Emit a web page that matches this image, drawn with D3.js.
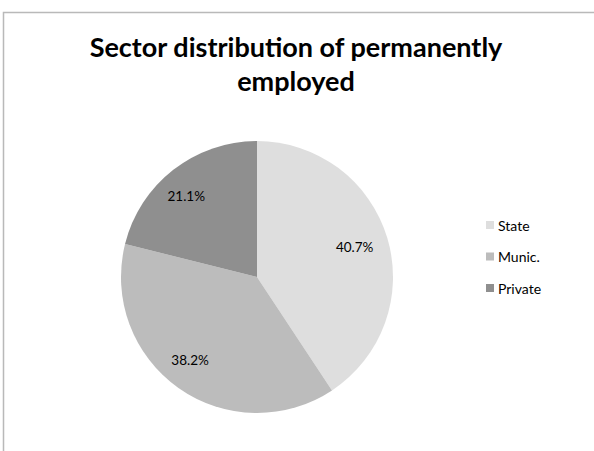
<!DOCTYPE html>
<html>
<head>
<meta charset="utf-8">
<script src="https://cdn.jsdelivr.net/npm/d3@7"></script>
<style>
  html, body { margin: 0; padding: 0; background: #fff; }
  svg { display: block; }
</style>
</head>
<body>
<svg id="chart" width="594" height="451"></svg>
<script>
// Share of permanently employed by sector
const sectors = ["State", "Munic.", "Private"];
const shares = [40.7, 38.2, 21.1];
const sectorColors = ["#dedede", "#bcbcbc", "#8f8f8f"];
const titleLines = ["Sector distribution of permanently", "employed"];

const svg = d3.select("#chart");
const fontFamily = "Lato, 'Open Sans', 'Liberation Sans', sans-serif";

// Chart frame (top and left edges visible)
svg.append("path")
  .attr("d", "M3.5,451 V12.5 H594")
  .attr("fill", "none")
  .attr("stroke", "#b9b9b9")
  .attr("stroke-width", 1.5);

// Title
const title = svg.append("text")
  .attr("x", 296)
  .attr("y", 57)
  .attr("text-anchor", "middle")
  .attr("font-family", fontFamily)
  .attr("font-weight", "bold")
  .attr("font-size", 27)
  .attr("fill", "#000");
title.selectAll("tspan")
  .data(titleLines)
  .join("tspan")
  .attr("x", 296)
  .attr("dy", (d, i) => i === 0 ? 0 : 34)
  .text(d => d);

// Pie
const cx = 257, cy = 277, radius = 136;
const color = d3.scaleOrdinal().domain(sectors).range(sectorColors);
const pie = d3.pie().sort(null).value(d => d.value);
const data = sectors.map((s, i) => ({ name: s, value: shares[i] }));
const arcs = pie(data);

const arc = d3.arc().innerRadius(0).outerRadius(radius);
const labelArc = d3.arc().innerRadius(radius * 0.75).outerRadius(radius * 0.75);

const g = svg.append("g").attr("transform", `translate(${cx},${cy})`);
g.selectAll("path")
  .data(arcs)
  .join("path")
  .attr("d", arc)
  .attr("fill", d => color(d.data.name));

g.selectAll("text")
  .data(arcs)
  .join("text")
  .attr("transform", d => {
    const [x, y] = labelArc.centroid(d);
    const mid = (d.startAngle + d.endAngle) / 2;
    const nudge = mid > Math.PI ? -8 : 0;
    return `translate(${x + nudge},${y})`;
  })
  .attr("dy", "0.35em")
  .attr("text-anchor", "middle")
  .attr("font-family", fontFamily)
  .attr("font-size", 13.5)
  .attr("fill", "#000")
  .text(d => d.data.value.toFixed(1) + "%");

// Legend
const legend = svg.append("g").attr("transform", "translate(486,221)");
const item = legend.selectAll("g")
  .data(sectors)
  .join("g")
  .attr("transform", (d, i) => `translate(0,${i * 31.5})`);
item.append("rect")
  .attr("width", 8)
  .attr("height", 8)
  .attr("fill", d => color(d));
item.append("text")
  .attr("x", 12)
  .attr("y", 9.5)
  .attr("font-family", fontFamily)
  .attr("font-size", 14)
  .attr("fill", "#000")
  .text(d => d);
</script>
</body>
</html>
